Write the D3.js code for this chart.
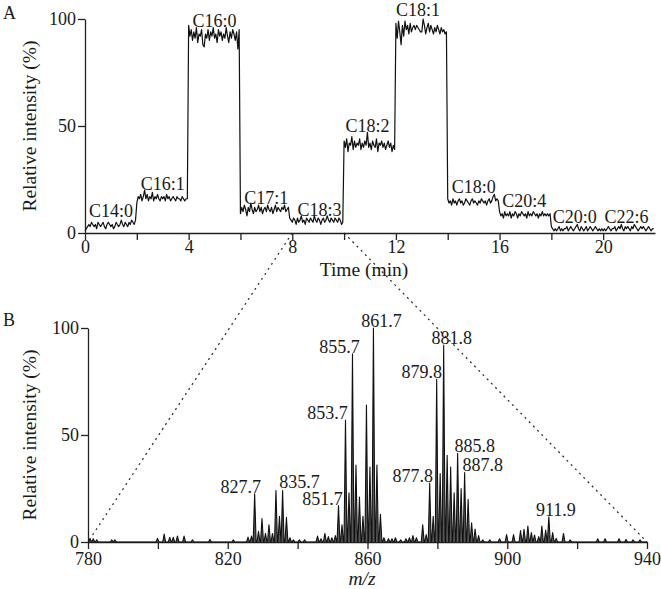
<!DOCTYPE html>
<html>
<head>
<meta charset="utf-8">
<script src="https://cdn.jsdelivr.net/npm/d3@7"></script>
<style>
  body { margin: 0; background: #fff; }
  text { font-family: "Liberation Serif", "Times New Roman", serif; fill: #1a1a1a; }
  .axis path, .axis line { stroke: #222; stroke-width: 1.3; }
  .axis text { font-size: 18px; font-family: "Liberation Serif", serif; fill: #1a1a1a; }
</style>
</head>
<body>
<div id="chart"></div>
<script>
// ---- panel A: chromatogram, one plateau per fatty acid, sampled every 0.05 min
var segStart = [0, 2, 4, 6, 8, 10, 12, 14, 16, 18, 20];
var segNames = ["C14:0", "C16:1", "C16:0", "C17:1", "C18:3", "C18:2", "C18:1", "C18:0", "C20:4", "C20:0", "C22:6"];
var sampleStep = 0.05;
var segValues = [
  [1,2,3,4,3,5,4,3,4,2,5,4,3,4,5,3,2,4,5,4,3,4,2,3,5,4,3,4,6,4,3,5,4,3,5,4,6,5,4,6],
  [14,17,16,18,15,17,20,16,18,15,17,16,19,15,17,16,18,16,15,17,16,17,15,18,16,17,15,16,17,16,15,17,16,16,15,17,16,15,16,16],
  [97,92,95,90,94,91,96,89,93,92,95,88,87,93,91,95,90,94,92,96,91,93,89,95,92,94,90,93,91,96,92,89,94,91,95,93,90,94,86,95],
  [9,12,10,13,11,8,12,10,14,11,9,12,10,11,13,10,12,9,11,12,10,13,11,10,12,9,11,13,10,12,11,10,12,11,13,10,11,12,7,6],
  [5,7,6,4,7,5,6,8,5,6,4,7,6,5,7,6,5,8,6,5,7,6,4,6,7,5,6,8,6,5,7,6,5,7,6,5,7,6,4,5],
  [43,40,44,38,42,41,45,39,43,40,42,41,44,39,42,40,43,41,47,40,42,39,43,41,40,44,38,42,41,43,40,42,39,41,43,40,42,38,41,39],
  [98,91,99,94,88,97,92,99,95,97,93,98,94,96,97,95,97,96,95,94,94,100,97,93,96,98,94,97,95,93,96,94,97,95,93,96,94,95,93,94],
  [16,14,15,13,16,14,15,13,15,16,14,15,13,14,16,15,14,13,15,16,14,15,14,13,15,14,16,15,14,15,13,15,16,14,15,17,18,15,16,15],
  [10,8,9,7,10,8,9,8,10,7,9,8,10,9,7,9,8,10,9,8,9,7,10,8,9,8,10,9,8,9,7,9,8,10,8,9,8,9,8,9],
  [3,2,1,2,1,2,3,1,2,1,2,2,3,1,2,3,2,1,2,3,4,2,1,3,2,1,2,3,1,2,3,2,1,2,3,2,1,2,1,2],
  [1,2,1,2,3,2,1,2,2,3,1,2,3,2,4,2,1,3,2,3,2,1,3,2,4,3,2,1,2,3,2,3,2,1,2,3,2,1,2,2]
];
// where each name label sits (time, intensity)
var labelTime = [1, 3, 5, 7, 9.05, 10.9, 12.85, 15, 16.95, 18.9, 20.9];
var labelLevel = [7.5, 20.1, 96.3, 13.6, 7.9, 47.2, 101.6, 18.7, 12.1, 4.7, 4.7];
var timeTicks = [0, 2, 4, 6, 8, 10, 12, 14, 16, 18, 20];
var intensityTicks = [0, 50, 100];

// ---- panel B: mass spectrum of the 8-10 min window
var peakMz = [780.6, 781.5, 782.5, 786.8, 787.7, 799.9, 801.8, 803.4, 804.4, 805.6, 807.5, 809.9, 814.9, 821.6,
  825.8, 826.8, 827.7, 828.8, 829.8, 830.8, 831.8, 832.8, 833.8, 834.8, 835.7, 836.8, 837.8, 838.8, 840.5, 842,
  845.7, 846.7, 847.8, 848.8, 849.8, 850.8, 851.7, 852.7, 853.7, 854.7, 855.7, 856.7, 857.7, 858.7, 859.7, 860.7,
  861.7, 862.7, 863.7, 864.7, 866, 867, 868, 869.5, 871, 872, 873, 874, 875.8, 876.8, 877.8, 878.8, 879.8, 880.8,
  881.8, 882.8, 883.8, 884.8, 885.8, 886.8, 887.8, 888.8, 889.8, 890.8, 891.8, 893, 895, 897.8, 899.8, 901.8,
  903.8, 904.8, 905.9, 906.9, 907.8, 909, 909.9, 911, 911.9, 913, 914, 916.1, 918, 925.9, 928, 932, 934, 936, 938];
var peakInt = [1.5, 1.5, 1, 1, 1, 1.7, 3.7, 2.2, 2.2, 2.8, 2.8, 1, 1.2, 1,
  2.3, 2.8, 22.5, 5, 11, 4, 8, 4, 24, 12, 24, 11.5, 2, 1, 1, 1,
  2.8, 1.5, 4, 2.5, 2, 3, 17, 8, 57, 23, 88, 36, 21, 12, 64, 35,
  100, 36, 13, 2, 1.5, 1.5, 2, 1, 1.5, 2, 3, 2, 8, 3.5, 27.5, 12, 76, 32,
  92, 40.5, 35, 23, 41.5, 25, 32.5, 20, 9, 6, 3, 1, 1, 1.5, 3.5, 3.5,
  5.3, 5.9, 7.5, 4.4, 3.3, 2.5, 7.5, 5.6, 11.8, 4.4, 1.7, 4, 1, 1.5, 1.5, 1.5, 1.2, 1, 1];
var labelledPeaks = ["827.7", "835.7", "851.7", "853.7", "855.7", "861.7", "877.8", "879.8", "881.8", "885.8", "887.8", "911.9"];
var mzTicks = [780, 800, 820, 840, 860, 880, 900, 920, 940];

// label nudges (px) so text clears the sticks
var labelDx = {"827.7": -14, "835.7": 17, "851.7": -16, "853.7": -18, "855.7": -13, "861.7": 8,
  "877.8": -17, "879.8": -15, "881.8": 8, "885.8": 17, "887.8": 18, "911.9": 7};
var labelDy = {"835.7": -2};

var width = 661, height = 589;
var svg = d3.select('#chart').append('svg')
    .attr('width', width)
    .attr('height', height);

// scales
var xA = d3.scaleLinear().domain([0, 22]).range([85, 655]);
var yA = d3.scaleLinear().domain([0, 100]).range([233, 19]);
var xB = d3.scaleLinear().domain([780, 940]).range([88, 647]);
var yB = d3.scaleLinear().domain([0, 100]).range([542, 328]);

// build trace A
var trace = [];
segValues.forEach(function(vals, s) {
    vals.forEach(function(v, j) {
        trace.push({t: segStart[s] + j * sampleStep, v: v});
    });
});

// dotted zoom lines (8-10 min -> whole spectrum)
svg.append('line')
    .attr('x1', xA(8)).attr('y1', yA(0))
    .attr('x2', xB(780)).attr('y2', yB(0))
    .attr('stroke', '#333').attr('stroke-width', 1.3)
    .attr('stroke-dasharray', '2,4');
svg.append('line')
    .attr('x1', xA(10)).attr('y1', yA(0))
    .attr('x2', xB(940)).attr('y2', yB(0))
    .attr('stroke', '#333').attr('stroke-width', 1.3)
    .attr('stroke-dasharray', '2,4');

// axes A
svg.append('g')
    .attr('class', 'axis')
    .attr('transform', 'translate(0,' + yA(0) + ')')
    .call(d3.axisBottom(xA).tickValues(timeTicks).tickSize(7).tickSizeOuter(0).tickPadding(0)
        .tickFormat(d => d % 4 === 0 ? d : ''));
svg.append('g')
    .attr('class', 'axis')
    .attr('transform', 'translate(' + xA(0) + ',0)')
    .call(d3.axisLeft(yA).tickValues(intensityTicks).tickSize(7).tickSizeOuter(0).tickPadding(2));

svg.append('path')
    .datum(trace)
    .attr('fill', 'none')
    .attr('stroke', '#111')
    .attr('stroke-width', 1.2)
    .attr('stroke-linejoin', 'round')
    .attr('d', d3.line().x(d => xA(d.t)).y(d => yA(d.v)));

svg.selectAll('.segLabel')
    .data(segNames).enter()
    .append('text')
    .attr('class', 'segLabel')
    .attr('x', (d, i) => xA(labelTime[i]))
    .attr('y', (d, i) => yA(labelLevel[i]))
    .attr('text-anchor', 'middle')
    .attr('font-size', 18)
    .text(d => d);

// axes B
svg.append('g')
    .attr('class', 'axis')
    .attr('transform', 'translate(0,' + yB(0) + ')')
    .call(d3.axisBottom(xB).tickValues(mzTicks).tickSize(7).tickSizeOuter(0).tickPadding(3)
        .tickFormat(d => (d - 780) % 40 === 0 ? d : ''));
svg.append('g')
    .attr('class', 'axis')
    .attr('transform', 'translate(' + xB(780) + ',0)')
    .call(d3.axisLeft(yB).tickValues(intensityTicks).tickSize(7).tickSizeOuter(0).tickPadding(2));

// spectrum: each stick drawn as a narrow triangle from the baseline
var spec = [{m: 780, v: 0}];
peakMz.forEach(function(m, i) {
    spec.push({m: m - 0.42, v: 0});
    spec.push({m: m, v: peakInt[i]});
    spec.push({m: m + 0.42, v: 0});
});
spec.push({m: 940, v: 0});

svg.append('path')
    .datum(spec)
    .attr('fill', '#555')
    .attr('stroke', '#111')
    .attr('stroke-width', 1.1)
    .attr('stroke-linejoin', 'round')
    .attr('d', d3.line().x(d => xB(d.m)).y(d => yB(d.v)));

svg.selectAll('.peakLabel')
    .data(labelledPeaks).enter()
    .append('text')
    .attr('class', 'peakLabel')
    .attr('x', d => {
        var i = peakMz.indexOf(+d);
        return xB(peakMz[i]) + labelDx[d];
    })
    .attr('y', d => yB(peakInt[peakMz.indexOf(+d)]) - 1 + (labelDy[d] || 0))
    .attr('text-anchor', 'middle')
    .attr('font-size', 18)
    .text(d => d);

// titles
svg.append('text')
    .attr('transform', 'translate(36,' + (yA(0) + yA(100)) / 2 + ') rotate(-90)')
    .attr('text-anchor', 'middle')
    .attr('font-size', 19.5)
    .text('Relative intensity (%)');
svg.append('text')
    .attr('transform', 'translate(36,' + (yB(0) + yB(100)) / 2 + ') rotate(-90)')
    .attr('text-anchor', 'middle')
    .attr('font-size', 19.5)
    .text('Relative intensity (%)');
svg.append('text')
    .attr('x', 364).attr('y', 276)
    .attr('text-anchor', 'middle')
    .attr('font-size', 19.5)
    .text('Time (min)');
svg.append('text')
    .attr('x', 362).attr('y', 585)
    .attr('text-anchor', 'middle')
    .attr('font-size', 19.5)
    .attr('font-style', 'italic')
    .text('m/z');

svg.append('text').attr('x', 3).attr('y', 19).attr('font-size', 18).text('A');
svg.append('text').attr('x', 3).attr('y', 326).attr('font-size', 18).text('B');
</script>
</body>
</html>
